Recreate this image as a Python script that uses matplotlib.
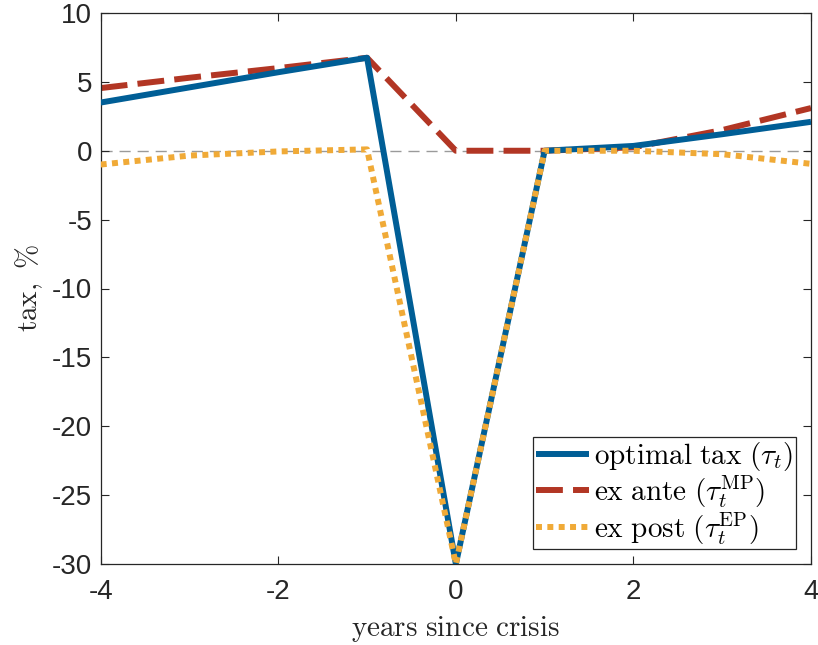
import matplotlib.pyplot as plt
import numpy as np

plt.rcParams['mathtext.fontset'] = 'cm'
plt.rcParams['font.family'] = ['Liberation Sans', 'DejaVu Sans']
plt.rcParams['axes.unicode_minus'] = False

# years since crisis
years = [-4, -3, -2, -1, 0, 1, 2, 3, 4]
# tax, %
optimal_tax = [3.5, 4.6, 5.7, 6.75, -30, 0.0, 0.35, 1.2, 2.1]
ex_ante = [4.55, 5.3, 6.0, 6.75, 0.0, 0.0, 0.25, 1.5, 3.1]
ex_post = [-1.0, -0.35, -0.05, 0.1, -30, 0.0, 0.0, -0.25, -0.95]

labels = [r'$\mathrm{optimal\ tax}\ (\tau_t)$',
          r'$\mathrm{ex\ ante}\ (\tau_t^{\mathrm{MP}})$',
          r'$\mathrm{ex\ post}\ (\tau_t^{\mathrm{EP}})$']

fig = plt.figure(figsize=(8.18, 6.45), dpi=100)
ax = fig.add_axes([100.7 / 818, 1 - 564 / 645, (811 - 100.7) / 818, (564 - 13) / 645])

ax.axhline(0, color='#9a9a9a', lw=1.0, ls=(0, (8, 5)), zorder=1)
ax.plot(years, optimal_tax, color='#005E96', lw=4.3, label=labels[0],
        solid_capstyle='butt', zorder=3)
ax.plot(years, ex_ante, color='#B23624', lw=4.3, ls=(0, (4.5, 1.7)),
        label=labels[1], dash_capstyle='butt', zorder=2)
ax.plot(years, ex_post, color='#F0AA37', lw=4.3, ls=(0, (1.0, 0.9)),
        label=labels[2], dash_capstyle='butt', zorder=4)

ax.set_xlim(-4, 4)
ax.set_ylim(-30, 10)
ax.set_xticks(np.arange(-4, 5, 2))
ax.set_yticks(np.arange(-30, 11, 5))
ax.tick_params(direction='in', length=6, width=0.8, labelsize=20,
               top=True, right=True, colors='#262626', pad=6)
ax.tick_params(axis='x', pad=11)
for s in ax.spines.values():
    s.set_color('#262626')
    s.set_linewidth(0.9)

ax.set_xlabel(r'$\mathrm{years\ since\ crisis}$', fontsize=21, color='#262626', labelpad=6)
ax.set_ylabel(r'$\mathrm{tax,\ \%}$', fontsize=21, color='#262626', labelpad=5)

leg = ax.legend(loc='lower right', fontsize=21, handlelength=1.8, handletextpad=0.2,
                borderpad=0.1, labelspacing=0.0, borderaxespad=0.5, fancybox=False,
                framealpha=1, edgecolor='#262626')
leg.get_frame().set_linewidth(0.9)

plt.savefig('out.png', dpi=100)
